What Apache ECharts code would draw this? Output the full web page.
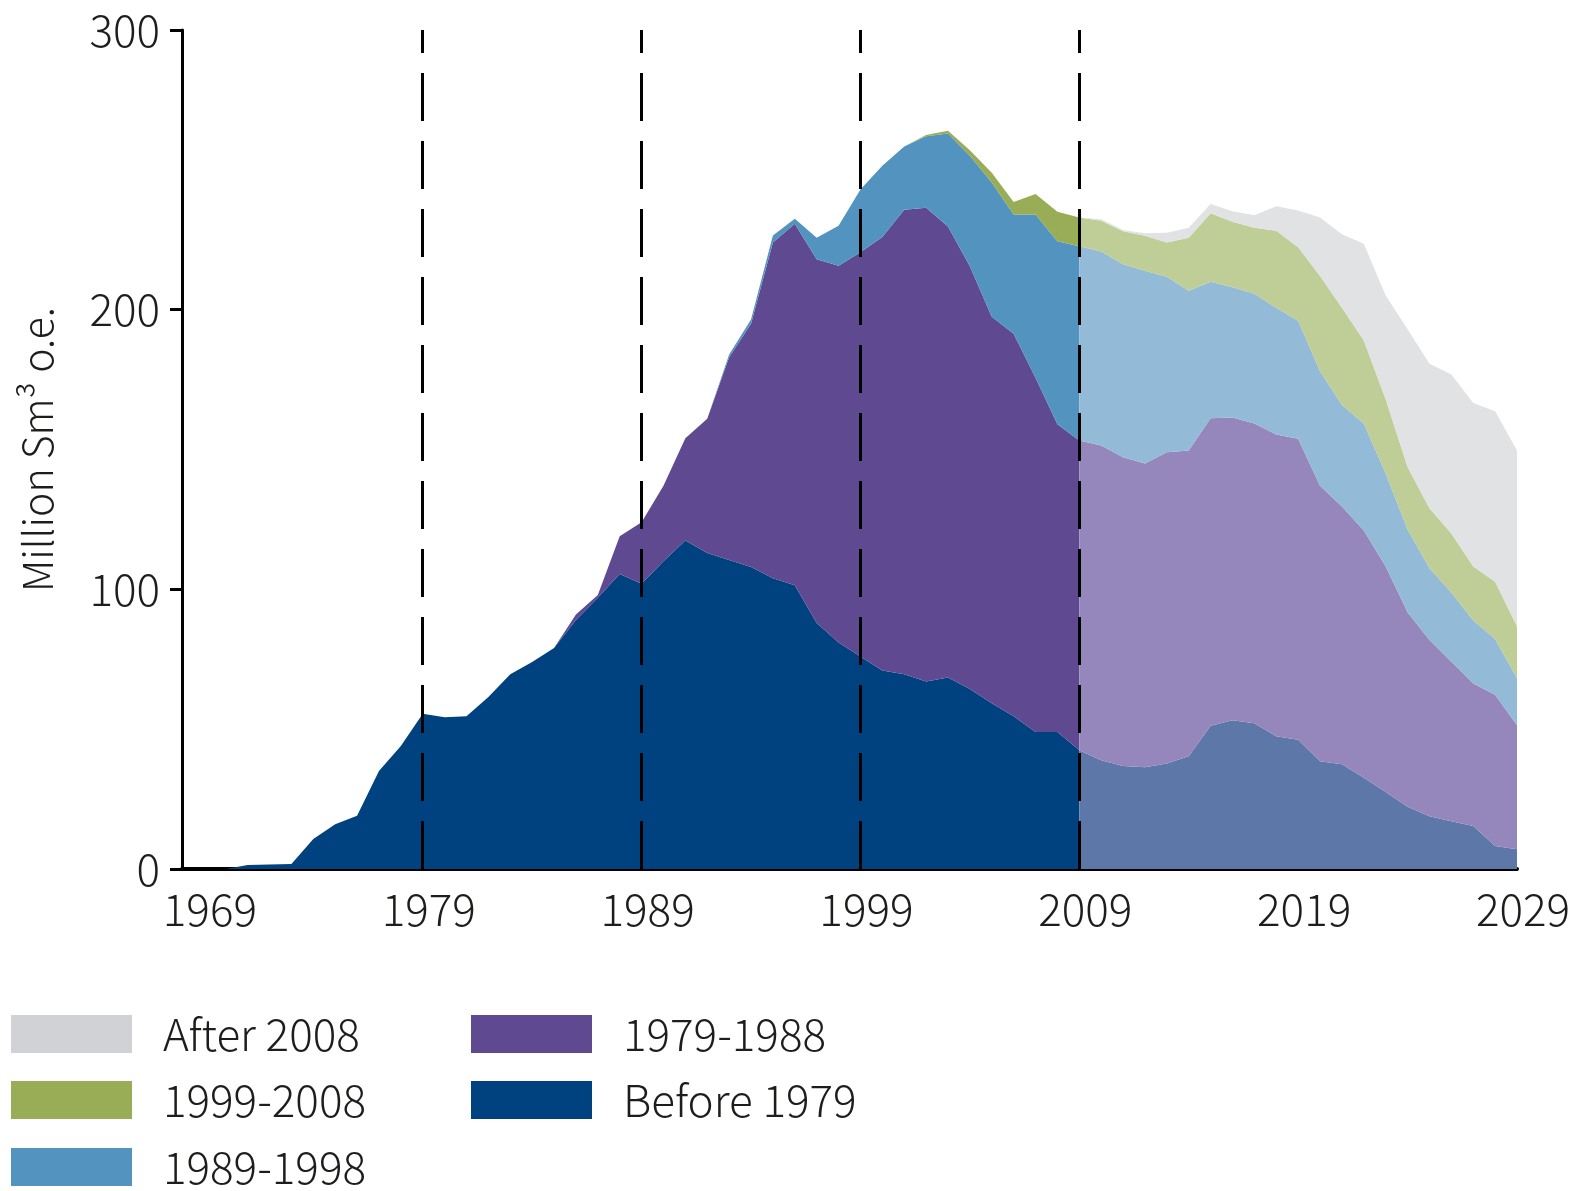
<!DOCTYPE html>
<html>
<head>
<meta charset="utf-8">
<title>Production by discovery period</title>
<script src="https://cdn.jsdelivr.net/npm/echarts@6/dist/echarts.min.js"></script>
<style>
  html, body { margin: 0; padding: 0; background: #ffffff; }
  #chart { width: 1572px; height: 1191px; }
</style>
</head>
<body>
<div id="chart"></div>
<script>
// x categories: one per year, 1968 - 2029
const years = Array.from({ length: 62 }, (_, i) => String(1968 + i));
const xTickLabels = ['1969', '1979', '1989', '1999', '2009', '2019', '2029'];
const dividerYears = ['1979', '1989', '1999', '2009'];
const yTicks = [0, 100, 200, 300];

// historical production 1968-2009 (million Sm3 o.e.), one layer per discovery period
const histBefore1979 = [0, 0, 0, 1.4, 1.6, 1.8, 10.7, 16, 19, 35, 44, 55.5, 54.3, 54.6, 61.5, 69.6, 74, 79, 89, 97,
  105.5, 102, 110, 117.5, 113, 110.5, 108, 104, 101.5, 88, 81, 76, 71, 69.6, 67, 68.5, 64.4, 59.3, 54.6, 49, 49, 42.5];
const hist1979to1988 = [0, 0, 0, 0, 0, 0, 0, 0, 0, 0, 0, 0, 0, 0, 0, 0, 0, 0, 2, 1,
  13.5, 22, 27, 36.5, 48, 72.5, 87, 120, 129.2, 130, 134.7, 144.5, 155, 166.1, 169.4, 161.2, 151.1, 138.2, 136.8, 126.7, 110, 110.7];
const hist1989to1998 = [0, 0, 0, 0, 0, 0, 0, 0, 0, 0, 0, 0, 0, 0, 0, 0, 0, 0, 0, 0,
  0, 0, 0, 0, 0, 1, 1.5, 2.5, 1.8, 7.7, 14.3, 22.5, 25.5, 22.6, 25.6, 33.3, 39.5, 48, 42.6, 58.3, 65.5, 69.5];
const hist1999to2008 = [0, 0, 0, 0, 0, 0, 0, 0, 0, 0, 0, 0, 0, 0, 0, 0, 0, 0, 0, 0,
  0, 0, 0, 0, 0, 0, 0, 0, 0, 0, 0, 0, 0, 0, 0.5, 1, 2, 3.5, 4.5, 7.4, 10.5, 10.3];

// forecast 2009-2029
const fcBefore1979 = [42.5, 38.9, 36.8, 36.4, 37.7, 40.3, 51.2, 53.2, 52.1, 47.5, 46.2, 38.5, 37.5, 32.6, 27.5, 22.3, 18.9, 17.1, 15.4, 8.2, 7.1];
const fc1979to1988 = [110.7, 112.5, 110.4, 108.6, 111.3, 109.3, 110, 108.2, 107.2, 107.9, 107.6, 98.5, 92.1, 88.4, 80.7, 69.5, 63, 57, 50.9, 54.1, 44.3];
const fc1989to1998 = [69.5, 69.4, 69, 68.9, 62.8, 57.2, 48.8, 46.6, 46.4, 45.3, 42.2, 41, 36.3, 38.3, 33.2, 29.6, 25.6, 24.8, 22.6, 19.9, 16.8];
const fc1999to2008 = [10.3, 11, 11.8, 12.5, 12.2, 18.9, 24.5, 23.4, 23.6, 27.5, 26.3, 34, 34.8, 29.7, 26.6, 22.3, 21.5, 21.1, 19.3, 20.5, 18.6];
const fcAfter2008 = [0, 0.5, 0.5, 0.9, 3.5, 3.6, 3.3, 3.8, 4.5, 8.8, 13.2, 21, 26.3, 34.6, 37.1, 49.3, 51.7, 56.8, 58.4, 61, 62.8];

const names = ['Before 1979', '1979-1988', '1989-1998', '1999-2008', 'After 2008'];
const histColors = ['#00417f', '#5f4a91', '#5294bf', '#99ad57', '#d0d2d5'];
const fcColors = ['#5d77a9', '#9587bb', '#93bad6', '#bfcd96', '#e1e2e4'];

// latin glyphs of the CJK face are narrow, closest to the original condensed type
const FONT = "'Noto Sans CJK SC', 'Noto Sans', sans-serif";
const WEIGHT = 300;
const TEXT = '#1d1d1b';
const FS = 44;

const chart = echarts.init(document.getElementById('chart'));

// hist runs 1968-2009, forecast 2009-2029 (2009 shared so the areas meet)
function padHist(arr) {
  return arr.concat(new Array(years.length - arr.length).fill(null));
}
function padFc(arr) {
  return new Array(years.length - arr.length).fill(null).concat(arr);
}

function area(name, data, color, stack) {
  return {
    name: name,
    type: 'line',
    stack: stack,
    data: data,
    symbol: 'none',
    lineStyle: { width: 0 },
    itemStyle: { color: color },
    areaStyle: { color: color, opacity: 1 },
    silent: true
  };
}

const series = [];
[histBefore1979, hist1979to1988, hist1989to1998, hist1999to2008].forEach((d, i) => {
  series.push(area(names[i], padHist(d), histColors[i], 'hist'));
});
[fcBefore1979, fc1979to1988, fc1989to1998, fc1999to2008, fcAfter2008].forEach((d, i) => {
  series.push(area(names[i], padFc(d), fcColors[i], 'fc'));
});

// dashed dividers on top of everything
series[series.length - 1].markLine = {
  silent: true,
  symbol: 'none',
  label: { show: false },
  lineStyle: { color: '#000', width: 3, type: [48, 20] },
  data: dividerYears.map(y => ({ xAxis: y }))
};

// one legend per entry so each box sits where it should
const legendSpots = [
  { name: 'After 2008', left: 11, top: 1012 },
  { name: '1999-2008', left: 11, top: 1078 },
  { name: '1989-1998', left: 11, top: 1145 },
  { name: '1979-1988', left: 471, top: 1012 },
  { name: 'Before 1979', left: 471, top: 1078 }
];
const legends = legendSpots.map(s => ({
  left: s.left,
  top: s.top,
  padding: 0,
  icon: 'rect',
  itemWidth: 121,
  itemHeight: 38,
  selectedMode: false,
  data: [{ name: s.name, itemStyle: { color: histColors[names.indexOf(s.name)] } }],
  textStyle: {
    fontFamily: FONT,
    fontWeight: WEIGHT,
    fontSize: FS,
    color: TEXT,
    lineHeight: 38,
    padding: [0, 0, 0, 26]
  }
}));

const option = {
  animation: false,
  backgroundColor: '#ffffff',
  grid: { left: 182, right: 55, top: 30, bottom: 322, outerBoundsMode: 'none' },
  legend: legends,
  xAxis: {
    type: 'category',
    data: years,
    boundaryGap: false,
    axisLine: { lineStyle: { color: '#000', width: 4 } },
    axisTick: { show: false },
    axisLabel: {
      interval: (idx, val) => xTickLabels.indexOf(val) >= 0,
      fontFamily: FONT,
      fontWeight: WEIGHT,
      fontSize: FS,
      color: TEXT,
      margin: 18,
      padding: [0, 0, 0, 12]
    },
    splitLine: { show: false }
  },
  yAxis: {
    type: 'value',
    min: yTicks[0],
    max: yTicks[yTicks.length - 1],
    interval: 100,
    name: 'Million Sm³ o.e.',
    nameLocation: 'middle',
    nameRotate: 90,
    nameGap: 124,
    nameTextStyle: { fontFamily: FONT, fontWeight: WEIGHT, fontSize: 41, color: TEXT },
    axisLine: { show: true, lineStyle: { color: '#000', width: 3 } },
    axisTick: { show: true, length: 12, lineStyle: { color: '#000', width: 3 } },
    axisLabel: { fontFamily: FONT, fontWeight: WEIGHT, fontSize: FS, color: TEXT, margin: 22 },
    splitLine: { show: false }
  },
  series: series
};

chart.setOption(option);
window.addEventListener('resize', function () {
  chart.resize();
});
</script>
</body>
</html>
